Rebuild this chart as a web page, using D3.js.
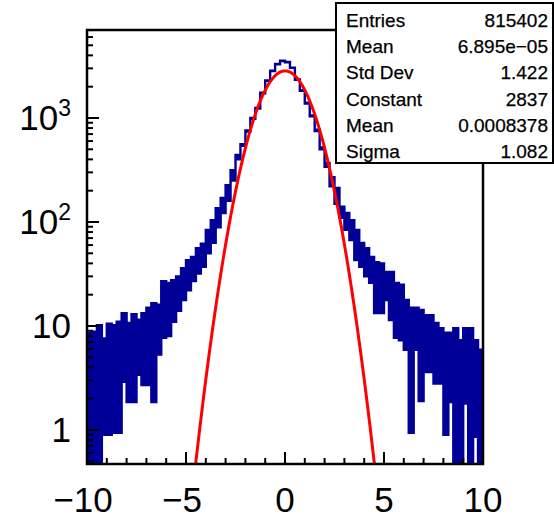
<!DOCTYPE html>
<html><head><meta charset="utf-8">
<script src="https://cdn.jsdelivr.net/npm/d3@7"></script>
<style>html,body{margin:0;padding:0;background:#fff;}svg{display:block;}</style>
</head><body>
<svg id="c" width="554" height="518"></svg>
<script>
// ---- data ----
const xRange = [-10, 10];
const yRange = [0.471, 7015];
const xTickValues = [-10, -5, 0, 5, 10];
const xTickLabels = ["\u221210", "\u22125", "0", "5", "10"];
const yTickValues = [1, 10, 100, 1000];
const yTickBase = ["1", "10", "10", "10"];
const yTickExp = ["", "", "2", "3"];
// histogram, 80 bins of equal width over xRange: upper and lower envelope of the drawn line per bin
const countsHigh = [8.6, 8.8, 10.2, 7.6, 10.5, 10.2, 11, 13.3, 10.7, 13,
  11.5, 13.3, 15, 16.6, 16, 27, 26, 27.6, 30, 36,
  43, 46, 56, 62, 84, 104, 136, 170, 226, 315,
  440, 560, 760, 1000, 1250, 1750, 2300, 2850, 3300, 3550,
  3450, 3050, 2350, 1850, 1400, 1060, 770, 520, 370, 270,
  212, 140, 122, 104, 84, 63, 56, 46, 41, 40,
  33, 33, 26, 25, 17.8, 15, 15, 14.3, 12.7, 12.7,
  10.7, 9.5, 8.6, 8.6, 9.5, 7.3, 9.5, 9.5, 7.3, 5.9];
const countsLow = [0, 0, 0, 0.9, 0.9, 0.94, 0.94, 2.9, 1.86, 1.86,
  3.4, 2.7, 2.7, 1.86, 5.3, 7.7, 8, 11, 14, 17.8,
  22, 27, 32, 37, 50, 63, 89, 122, 160, 250,
  400, 540, 740, 980, 1230, 1730, 2280, 2830, 3280, 3530,
  3430, 3030, 2330, 1830, 1380, 1040, 750, 500, 340, 220,
  150, 110, 84, 67, 43, 37, 30, 26, 13.3, 13.3,
  17.8, 11.4, 7.7, 7.3, 5.9, 0.94, 5.9, 1.9, 3.6, 3.6,
  2.8, 2.8, 0.9, 1.86, 0, 0, 1.8, 0, 0.86, 0];
// Gaussian fit parameters (from the stats box)
const fitConstant = 2837, fitMean = 0.0008378, fitSigma = 1.082;
const statsLabels = ["Entries", "Mean", "Std Dev", "Constant", "Mean", "Sigma"];
const statsValues = ["815402", "6.895e\u221205", "1.422", "2837", "0.0008378", "1.082"];

// ---- layout ----
const L = 87, R = 483, T = 30, B = 464;
const FONT = "'Liberation Sans', Arial, Helvetica, sans-serif";
const svg = d3.select("#c");
const x = d3.scaleLinear().domain(xRange).range([L, R]);
const y = d3.scaleLog().domain(yRange).range([B, T]);

svg.append("defs").append("clipPath").attr("id", "clip")
  .append("rect").attr("x", L).attr("y", T).attr("width", R - L).attr("height", B - T);

const plot = svg.append("g").attr("clip-path", "url(#clip)");
const nb = countsHigh.length;
const bw = (xRange[1] - xRange[0]) / nb;
const pts = d3.range(nb + 1).map(i => {
  const k = Math.min(i, nb - 1);
  return {x: xRange[0] + i * bw, hi: countsHigh[k], lo: countsLow[k]};
});
const yv = v => v > yRange[0] ? y(v) : B + 5;
const blue = "#000099";
plot.append("path").datum(pts)
  .attr("d", d3.area().curve(d3.curveStepAfter).x(d => x(d.x)).y0(d => yv(d.lo)).y1(d => yv(d.hi)))
  .attr("fill", blue).attr("stroke", blue).attr("stroke-width", 2.4);

// fit curve
const fx = d3.range(xRange[0], xRange[1] + 1e-9, 0.02);
const gauss = t => fitConstant * Math.exp(-0.5 * Math.pow((t - fitMean) / fitSigma, 2));
plot.append("path").datum(fx)
  .attr("d", d3.line().x(t => x(t)).y(t => { const v = gauss(t); return v > 1e-3 ? y(v) : B + 200; }))
  .attr("fill", "none").attr("stroke", "#ff0000").attr("stroke-width", 3);

// ---- axes ----
const ax = svg.append("g").attr("stroke", "#000").attr("stroke-width", 2);
d3.range(-10, 10.001, 1).forEach(v => {
  const major = xTickValues.includes(v);
  ax.append("line").attr("x1", x(v)).attr("x2", x(v)).attr("y1", B).attr("y2", B - (major ? 12 : 6));
});
[0.1, 1, 10, 100, 1000].forEach(dec => {
  d3.range(1, 10).forEach(m => {
    const v = dec * m;
    if (v < yRange[0] || v > yRange[1]) return;
    const major = m === 1;
    ax.append("line").attr("x1", L).attr("x2", L + (major ? 12 : 6)).attr("y1", y(v)).attr("y2", y(v));
  });
});
svg.append("rect").attr("x", L).attr("y", T).attr("width", R - L).attr("height", B - T)
  .attr("fill", "none").attr("stroke", "#000").attr("stroke-width", 2.5);

// labels
xTickValues.forEach((v, i) => {
  svg.append("text").attr("x", x(v) - (v < 0 ? 4 : 0)).attr("y", 512).attr("text-anchor", "middle")
    .attr("font-family", FONT).attr("font-size", 35).text(xTickLabels[i]);
});
yTickValues.forEach((v, i) => {
  const t = svg.append("text").attr("x", 71).attr("y", y(v) + 12).attr("text-anchor", "end")
    .attr("font-family", FONT).attr("font-size", 35);
  t.append("tspan").text(yTickBase[i]);
  if (yTickExp[i]) t.append("tspan").attr("dy", -14).attr("font-size", 23).text(yTickExp[i]);
});

// stats box
const sb = {x: 336, y: 3, w: 217, h: 160};
svg.append("rect").attr("x", sb.x).attr("y", sb.y).attr("width", sb.w).attr("height", sb.h)
  .attr("fill", "#fff").attr("stroke", "#000").attr("stroke-width", 2);
const rowH = 26.2;
statsLabels.forEach((s, i) => {
  const by = 27 + i * rowH;
  svg.append("text").attr("x", 346).attr("y", by).attr("font-family", FONT).attr("font-size", 19)
    .attr("stroke", "#000").attr("stroke-width", 0.25).text(s);
  svg.append("text").attr("x", 548).attr("y", by).attr("text-anchor", "end")
    .attr("font-family", FONT).attr("font-size", 19)
    .attr("stroke", "#000").attr("stroke-width", 0.25).text(statsValues[i]);
});
</script>
</body></html>
